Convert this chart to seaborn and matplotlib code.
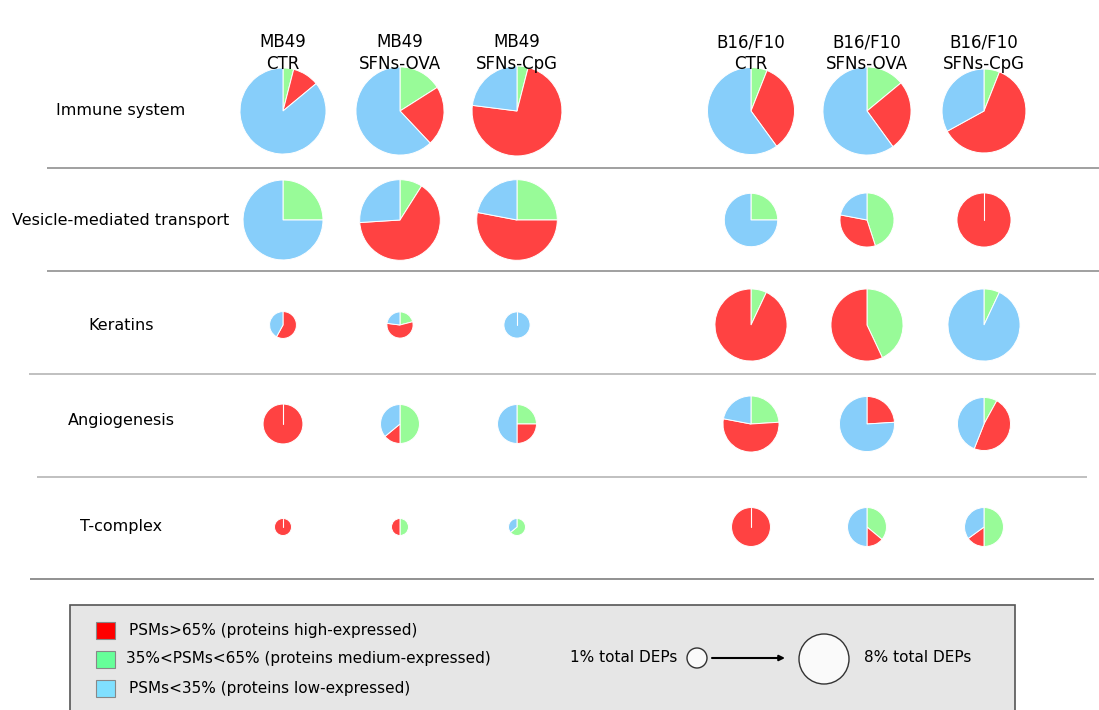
import matplotlib
matplotlib.use("Agg")
import matplotlib.pyplot as plt
import seaborn as sns
from matplotlib.patches import Rectangle, Circle

# Column headers (samples) and row labels (protein categories)
groups = ['MB49\nCTR', 'MB49\nSFNs-OVA', 'MB49\nSFNs-CpG',
          'B16/F10\nCTR', 'B16/F10\nSFNs-OVA', 'B16/F10\nSFNs-CpG']
categories = ['Immune system', 'Vesicle-mediated transport', 'Keratins',
              'Angiogenesis', 'T-complex']

# Fraction of proteins per PSM class (rows = categories, cols = groups)
medium = [[0.04, 0.16, 0.04, 0.06, 0.14, 0.06],
          [0.25, 0.09, 0.25, 0.25, 0.45, 0.00],
          [0.00, 0.21, 0.00, 0.07, 0.43, 0.07],
          [0.00, 0.50, 0.25, 0.24, 0.00, 0.08],
          [0.00, 0.50, 0.64, 0.00, 0.36, 0.50]]
high = [[0.10, 0.22, 0.73, 0.34, 0.26, 0.61],
        [0.00, 0.65, 0.53, 0.00, 0.33, 1.00],
        [0.58, 0.56, 0.00, 0.93, 0.57, 0.00],
        [1.00, 0.14, 0.25, 0.54, 0.24, 0.48],
        [1.00, 0.50, 0.00, 1.00, 0.14, 0.15]]
low = [[0.86, 0.62, 0.23, 0.60, 0.60, 0.33],
       [0.75, 0.26, 0.22, 0.75, 0.22, 0.00],
       [0.42, 0.23, 1.00, 0.00, 0.00, 0.93],
       [0.00, 0.36, 0.50, 0.22, 0.76, 0.44],
       [0.00, 0.00, 0.36, 0.00, 0.50, 0.35]]

# % of total DEPs (pie area)
pct_total = [[20.5, 21.5, 22.4, 21.0, 21.5, 19.5],
             [17.7, 18.0, 18.0, 7.9, 8.1, 8.1],
             [2.0, 1.9, 1.9, 14.4, 14.4, 14.4],
             [4.4, 4.2, 4.2, 8.7, 8.4, 7.8],
             [0.8, 0.8, 0.8, 4.2, 4.2, 4.2]]

legend_labels = ['PSMs>65% (proteins high-expressed)',
                 '35%<PSMs<65% (proteins medium-expressed)',
                 'PSMs<35% (proteins low-expressed)']

sns.set_style("white")
plt.rcParams['font.family'] = ['DejaVu Sans']
plt.rcParams['text.color'] = 'black'

pie_colors = sns.color_palette(['#98FB98', '#FF4242', '#87CEFA'])   # medium, high, low
legend_colors = sns.color_palette(['#FF0000', '#66FF99', '#80E0FF'])

W, H = 1099, 710
fig = plt.figure(figsize=(W / 100, H / 100), dpi=100)
ax = fig.add_axes([0, 0, 1, 1])

col_x = [283, 400, 517, 751, 867, 984]
row_y = [111, 220, 325, 424, 527]
r_unit = 9.5  # radius (px) for 1% total DEPs

for i, cat in enumerate(categories):
    cy = H - row_y[i]
    ax.text(121, H - [110, 220, 325, 421, 527][i], cat, ha='center', va='center', fontsize=11.5)
    for j in range(len(groups)):
        vals = [medium[i][j], high[i][j], low[i][j]]
        keep = [k for k, v in enumerate(vals) if v > 0]
        r = r_unit * pct_total[i][j] ** 0.5
        ax.pie([vals[k] for k in keep], colors=[pie_colors[k] for k in keep],
               startangle=90, counterclock=False,
               center=(col_x[j], cy), radius=r,
               wedgeprops=dict(edgecolor='white', linewidth=0.7))
        if len(keep) == 1:
            # single-class pie still shows its start edge
            ax.plot([col_x[j], col_x[j]], [cy, cy + r], color='white', lw=0.8)

for j, g in enumerate(groups):
    ax.text(col_x[j], H - 53, g, ha='center', va='center', fontsize=12, linespacing=1.25)

# separators
seps = [(168, 47, 1099, '#999999'), (271, 47, 1099, '#999999'),
        (374, 29, 1096, '#bbbbbb'), (477, 37, 1087, '#bbbbbb'),
        (579, 30, 1094, '#888888')]
for y, x0, x1, c in seps:
    ax.plot([x0, x1], [H - y, H - y], color=c, lw=1.3, solid_capstyle='butt')

# legend box
ax.add_patch(Rectangle((70, -5), 945, H - 605 + 5, facecolor='#e6e6e6',
                       edgecolor='#555555', lw=1.2))
for k, (lab, c) in enumerate(zip(legend_labels, legend_colors)):
    yc = H - (630 + 29 * k)
    ax.add_patch(Rectangle((96, yc - 8.5), 19, 17, facecolor=c, edgecolor='#888888', lw=0.8))
    ax.text(129 if k != 1 else 126, yc, lab, ha='left', va='center', fontsize=11)

ax.text(677, H - 657, '1% total DEPs', ha='right', va='center', fontsize=11)
ax.add_patch(Circle((697, H - 658), 10, facecolor='#fafafa', edgecolor='#333333', lw=1))
ax.annotate('', xy=(785, H - 658), xytext=(712, H - 658),
            arrowprops=dict(arrowstyle='-|>', color='black', lw=1.5, mutation_scale=8,
                            shrinkA=0, shrinkB=0))
ax.add_patch(Circle((824, H - 659), 25, facecolor='#fafafa', edgecolor='#333333', lw=1))
ax.text(864, H - 657, '8% total DEPs', ha='left', va='center', fontsize=11)

ax.set_xlim(0, W)
ax.set_ylim(0, H)
ax.set_aspect('equal')
ax.axis('off')

fig.savefig('out.png', dpi=100)
